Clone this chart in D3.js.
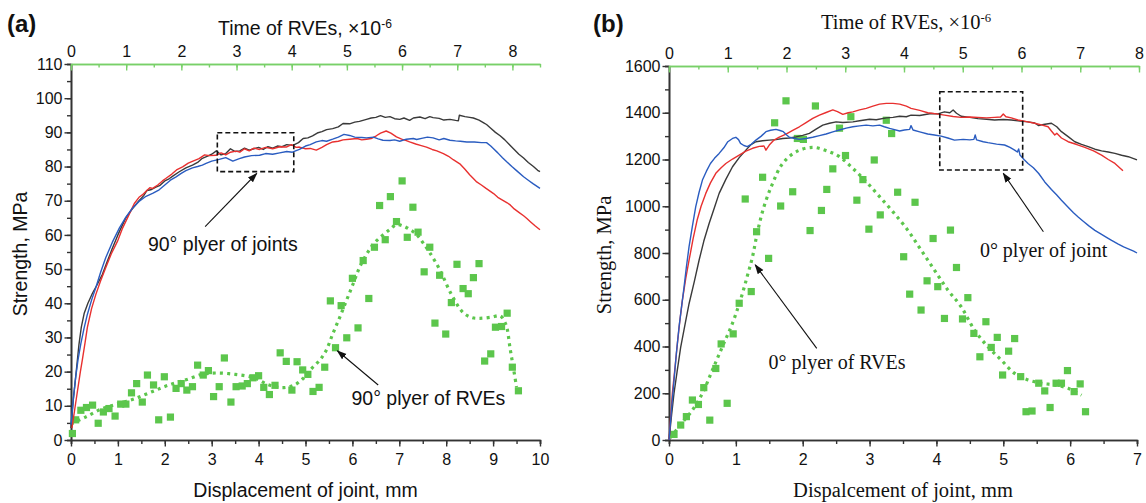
<!DOCTYPE html>
<html>
<head>
<meta charset="utf-8">
<script src="https://cdn.jsdelivr.net/npm/d3@7"></script>
<style>
  body { margin: 0; background: #fff; }
  svg { display: block; }
</style>
</head>
<body>
<svg id="chart" width="1146" height="503"></svg>
<script>
// ---------- Panel (a): 90° plyer ----------
const aJointBlack = [[0,3.5],[0.05,12],[0.1,18.5],[0.17,28],[0.22,33],[0.28,37],[0.36,40],[0.46,43],[0.56,45.5],[0.67,48.5],[0.78,52.5],[0.88,56],[1.0,60],[1.1,63],[1.17,65],[1.3,67.5],[1.45,70],[1.55,71.5],[1.62,73],[1.7,73.2],[1.81,74],[1.9,74.5],[2.0,75.8],[2.1,76.5],[2.17,77.2],[2.3,78.4],[2.45,79.6],[2.59,80.4],[2.7,81.2],[2.8,82.4],[2.9,83],[3.0,83.6],[3.1,84.6],[3.2,83.4],[3.3,83.8],[3.4,85.2],[3.5,84.4],[3.6,84.6],[3.7,85.4],[3.8,84.8],[3.9,85.2],[4.0,85.6],[4.1,85],[4.2,85.8],[4.3,85.4],[4.4,86],[4.5,85.8],[4.6,86.4],[4.73,86.2],[4.85,87],[4.95,88.2],[5.05,88.4],[5.15,89],[5.25,89.8],[5.35,90.2],[5.45,90.8],[5.58,91.1],[5.7,91.6],[5.8,92.6],[5.94,92.5],[6.05,93],[6.15,93.2],[6.3,93.8],[6.4,94.2],[6.5,94.4],[6.6,94.9],[6.7,94.4],[6.8,94.6],[6.9,94],[7.01,93.8],[7.1,94.2],[7.22,93.5],[7.3,94.2],[7.44,94.5],[7.55,94],[7.65,94.6],[7.72,94.3],[7.85,94.1],[7.95,93.6],[8.08,93.8],[8.2,93.5],[8.26,93.4],[8.28,95],[8.4,94.6],[8.5,94.4],[8.58,94.2],[8.7,93.6],[8.8,92.8],[8.86,92.3],[8.95,91.2],[9.05,90],[9.15,89],[9.25,87.8],[9.35,86.4],[9.45,85],[9.55,83.6],[9.65,82.5],[9.75,81.2],[9.86,80],[9.95,78.9],[10,78.5]];
const aJointRed = [[0.02,3.5],[0.08,9],[0.13,13.6],[0.2,20],[0.24,23.3],[0.3,28.5],[0.35,33],[0.44,38.5],[0.53,42.6],[0.63,46.5],[0.74,50.4],[0.86,54.5],[0.99,58.1],[1.1,62],[1.24,66],[1.35,69.2],[1.45,71],[1.52,71.7],[1.6,72.8],[1.68,73.8],[1.74,73.6],[1.85,74.6],[1.95,75.8],[2.02,76.5],[2.15,77.8],[2.25,79],[2.38,79.9],[2.5,81],[2.6,81.6],[2.73,82.3],[2.85,83.4],[2.95,83.2],[3.09,83.3],[3.2,84],[3.3,83.4],[3.4,84.2],[3.52,84.5],[3.6,84.2],[3.7,85.2],[3.8,84.6],[3.9,85.4],[4.02,85],[4.15,85.6],[4.3,85.2],[4.45,85.8],[4.59,85.7],[4.7,86.4],[4.8,85.6],[4.87,85.7],[5.0,85.2],[5.1,85.3],[5.23,84.8],[5.35,85.6],[5.45,86.4],[5.58,87.2],[5.7,87.4],[5.8,87.8],[5.94,88],[6.1,88.2],[6.2,87.8],[6.3,88],[6.4,88.2],[6.51,89],[6.6,89.8],[6.72,90.4],[6.82,89.8],[6.94,88.7],[7.05,88],[7.15,87.6],[7.22,87.2],[7.35,86.6],[7.45,86.2],[7.58,85.7],[7.7,85],[7.8,84.6],[7.94,83.8],[8.05,83],[8.15,82],[8.29,80.8],[8.4,79.2],[8.5,77.6],[8.6,76.2],[8.65,75.5],[8.75,74.6],[8.85,73.6],[9.01,72.1],[9.1,71],[9.2,70.2],[9.3,69.4],[9.37,68.7],[9.45,67.6],[9.55,66.6],[9.65,65.6],[9.72,64.8],[9.8,63.8],[9.9,62.6],[10,61.5]];
const aJointBlue = [[0,4.5],[0.05,12],[0.1,18.4],[0.15,23.5],[0.21,28.2],[0.28,32.8],[0.35,36.8],[0.44,41],[0.53,44.6],[0.63,49],[0.74,53.3],[0.88,57.8],[1.03,62],[1.17,65.2],[1.31,67.8],[1.45,69.8],[1.6,71.3],[1.75,72.2],[1.88,73.2],[2.0,74.6],[2.12,76],[2.24,77],[2.35,78],[2.45,78.8],[2.59,79.6],[2.7,80],[2.8,80.4],[2.88,80.9],[3.0,81.6],[3.16,82.1],[3.3,82.6],[3.45,81.6],[3.59,82.3],[3.7,82.8],[3.85,83.2],[4.02,83.3],[4.15,83.8],[4.3,83.6],[4.45,84],[4.6,84.4],[4.72,84.2],[4.87,85],[5.0,86],[5.1,86.4],[5.23,87.2],[5.35,87.6],[5.45,87.4],[5.58,88],[5.7,88.6],[5.82,89.4],[5.94,89.1],[6.05,88.6],[6.2,88.5],[6.3,88.4],[6.45,88.6],[6.55,88.1],[6.65,87.7],[6.8,87.6],[6.9,87.8],[7.01,87.4],[7.15,88],[7.3,88.2],[7.37,87.9],[7.5,88.3],[7.6,88.6],[7.72,88.4],[7.85,87.8],[7.95,88.2],[8.08,87.7],[8.2,87.5],[8.3,87.4],[8.44,87.2],[8.6,87.2],[8.75,87],[8.86,87],[8.95,86],[9.01,85.2],[9.1,84],[9.2,82.6],[9.29,81.4],[9.4,80],[9.5,78.8],[9.65,77],[9.75,76],[9.85,75],[10,73.6]];
const aRveScatter = [[0.03,1.9],[0.1,5.9],[0.21,8.7],[0.33,9.5],[0.46,10.2],[0.58,4.9],[0.69,8.2],[0.81,9.2],[0.94,7],[1.06,10.5],[1.17,10.5],[1.29,13.8],[1.4,16.5],[1.52,11.1],[1.63,19],[1.76,16.1],[1.87,5.9],[1.99,18.5],[2.12,6.7],[2.24,15.1],[2.35,16.5],[2.47,14.6],[2.59,15.6],[2.7,21.9],[2.82,19],[2.93,20.3],[3.04,12.7],[3.16,15.6],[3.27,24],[3.41,11.1],[3.52,15.6],[3.65,15.8],[3.76,16.5],[3.88,18.2],[4.0,18.8],[4.11,15.4],[4.23,13.3],[4.35,16],[4.46,25.5],[4.59,23],[4.71,14.6],[4.82,22.9],[4.94,20.5],[5.05,19.2],[5.16,14.2],[5.29,15.4],[5.41,21.3],[5.53,40.7],[5.64,27],[5.76,39.3],[5.88,29.9],[6.0,47.3],[6.12,32.8],[6.23,52.5],[6.35,41.4],[6.47,56.4],[6.58,68.6],[6.7,58.6],[6.81,71.2],[6.94,63.9],[7.06,75.8],[7.17,59.3],[7.29,68.1],[7.4,60.8],[7.53,49.2],[7.65,56.4],[7.76,34.2],[7.86,48.2],[7.99,31],[8.11,40.2],[8.23,51.4],[8.36,44.3],[8.47,42.8],[8.58,47.5],[8.7,51.6],[8.82,23.1],[8.95,25.2],[9.05,33],[9.18,33.2],[9.3,37.1],[9.41,21.3],[9.54,14.4]];
const aRveTrend = [[0,4.7],[0.31,6.7],[0.67,9.2],[1.03,10.7],[1.38,12.2],[1.74,14.2],[2.09,16.1],[2.45,17.6],[2.8,19.2],[3.1,19.6],[3.5,19.2],[3.9,18.2],[4.2,16.2],[4.5,15.3],[4.75,16],[4.95,18],[5.1,20.5],[5.3,23.3],[5.44,26.2],[5.58,31],[5.73,35.9],[5.87,40.7],[6.01,45.5],[6.15,50.4],[6.3,54.3],[6.44,57.2],[6.62,59.6],[6.8,61.6],[6.94,63],[7.08,62.6],[7.22,61.6],[7.37,60.1],[7.51,57.6],[7.65,54.8],[7.86,49.9],[8.11,42.6],[8.36,37.3],[8.55,35.8],[8.72,35.6],[8.95,35.9],[9.15,36.3],[9.25,34.5],[9.3,32.5],[9.36,27],[9.43,21.3],[9.5,15.5]];

const aDispTicks = [0,1,2,3,4,5,6,7,8,9,10];
const aStrengthTicks = [0,10,20,30,40,50,60,70,80,90,100,110];
const aTimeTicks = [0,1,2,3,4,5,6,7,8];

// ---------- Panel (b): 0° plyer ----------
const bJointBlack = [[0,0],[0.04,110],[0.075,200],[0.12,290],[0.175,397],[0.24,495],[0.3,583],[0.38,680],[0.45,769],[0.52,850],[0.6,926],[0.68,995],[0.75,1055],[0.85,1115],[0.95,1169],[1.05,1208],[1.15,1240],[1.22,1262],[1.3,1276],[1.4,1280],[1.5,1283],[1.6,1285],[1.7,1290],[1.8,1292],[1.9,1297],[2.0,1303],[2.1,1312],[2.2,1330],[2.3,1347],[2.4,1355],[2.5,1361],[2.6,1358],[2.75,1361],[2.85,1366],[3.0,1372],[3.1,1370],[3.25,1378],[3.35,1380],[3.45,1385],[3.55,1383],[3.62,1390],[3.75,1388],[3.92,1397],[4.02,1395],[4.12,1404],[4.2,1400],[4.25,1412],[4.3,1398],[4.37,1385],[4.5,1380],[4.62,1375],[4.75,1372],[4.87,1369],[5.0,1371],[5.12,1369],[5.25,1365],[5.37,1361],[5.47,1356],[5.53,1345],[5.6,1350],[5.72,1355],[5.8,1340],[5.87,1319],[5.97,1298],[6.07,1276],[6.17,1265],[6.27,1255],[6.37,1244],[6.47,1237],[6.57,1232],[6.67,1226],[6.77,1218],[6.87,1212],[6.95,1204],[7.0,1198]];
const bJointRed = [[0,0],[0.05,200],[0.09,310],[0.125,412],[0.16,505],[0.2,597],[0.25,690],[0.3,769],[0.36,860],[0.42,940],[0.48,1000],[0.55,1055],[0.62,1100],[0.7,1141],[0.78,1165],[0.85,1183],[0.95,1202],[1.05,1219],[1.15,1236],[1.25,1248],[1.35,1256],[1.42,1258],[1.45,1240],[1.5,1262],[1.57,1283],[1.65,1296],[1.75,1309],[1.85,1325],[1.95,1340],[2.05,1358],[2.15,1376],[2.25,1390],[2.35,1401],[2.45,1412],[2.52,1405],[2.6,1393],[2.68,1400],[2.75,1404],[2.85,1412],[2.95,1419],[3.05,1428],[3.15,1437],[3.25,1440],[3.35,1440],[3.45,1437],[3.55,1428],[3.62,1419],[3.75,1410],[3.87,1400],[4.0,1395],[4.12,1390],[4.25,1384],[4.37,1380],[4.5,1382],[4.62,1380],[4.75,1378],[4.87,1380],[4.96,1382],[5.0,1395],[5.04,1383],[5.12,1378],[5.22,1369],[5.35,1362],[5.47,1355],[5.57,1348],[5.67,1340],[5.72,1322],[5.77,1305],[5.8,1312],[5.87,1292],[5.97,1276],[6.1,1264],[6.22,1252],[6.35,1237],[6.47,1219],[6.57,1200],[6.67,1183],[6.79,1152]];
const bJointBlue = [[0,0],[0.04,140],[0.075,255],[0.11,370],[0.15,483],[0.19,575],[0.225,654],[0.26,740],[0.3,827],[0.35,915],[0.4,998],[0.45,1060],[0.5,1112],[0.56,1150],[0.62,1183],[0.68,1205],[0.75,1226],[0.82,1250],[0.88,1276],[0.95,1290],[1.0,1295],[1.04,1285],[1.07,1269],[1.12,1260],[1.17,1255],[1.23,1265],[1.3,1283],[1.38,1300],[1.45,1319],[1.52,1325],[1.6,1329],[1.66,1324],[1.71,1319],[1.76,1305],[1.8,1295],[1.88,1290],[1.95,1286],[2.05,1290],[2.15,1295],[2.25,1302],[2.35,1309],[2.45,1318],[2.55,1326],[2.65,1334],[2.75,1340],[2.85,1344],[2.95,1347],[3.05,1344],[3.15,1347],[3.22,1340],[3.3,1333],[3.45,1322],[3.52,1326],[3.6,1329],[3.62,1345],[3.65,1326],[3.75,1318],[3.87,1309],[3.97,1305],[4.07,1300],[4.17,1292],[4.27,1283],[4.4,1286],[4.5,1284],[4.56,1286],[4.58,1305],[4.6,1284],[4.7,1276],[4.77,1272],[4.9,1266],[5.02,1262],[5.1,1252],[5.17,1240],[5.21,1232],[5.23,1245],[5.25,1219],[5.31,1200],[5.37,1183],[5.45,1165],[5.53,1140],[5.62,1104],[5.72,1072],[5.8,1048],[5.87,1026],[5.97,996],[6.05,972],[6.12,954],[6.2,935],[6.28,916],[6.37,897],[6.47,880],[6.55,866],[6.62,854],[6.72,838],[6.8,826],[6.87,818],[6.95,808],[7.0,800]];
const bRveScatter = [[0.075,24],[0.175,64],[0.26,100],[0.35,171],[0.44,152],[0.52,224],[0.61,85],[0.7,306],[0.78,411],[0.87,157],[0.96,454],[1.05,585],[1.14,1031],[1.23,635],[1.31,891],[1.4,1124],[1.49,777],[1.58,1357],[1.67,1001],[1.75,1451],[1.85,1062],[1.92,1290],[2.01,1286],[2.11,896],[2.19,1429],[2.28,982],[2.36,1072],[2.45,1160],[2.55,1334],[2.64,1217],[2.72,1383],[2.81,1026],[2.9,1114],[2.99,902],[3.07,1198],[3.16,963],[3.25,1368],[3.33,1311],[3.42,1060],[3.51,784],[3.6,624],[3.68,1017],[3.77,556],[3.86,681],[3.95,862],[4.02,656],[4.12,520],[4.21,898],[4.3,738],[4.39,518],[4.47,609],[4.56,456],[4.65,356],[4.74,506],[4.82,396],[4.91,439],[4.99,278],[5.08,380],[5.17,434],[5.26,271],[5.34,121],[5.43,124],[5.53,243],[5.62,210],[5.7,139],[5.79,243],[5.87,243],[5.96,297],[6.06,207],[6.15,240],[6.23,121]];
const bRveTrend = [[0.02,10],[0.2,75],[0.35,128],[0.5,200],[0.65,300],[0.8,400],[0.95,500],[1.07,600],[1.17,700],[1.25,785],[1.32,885],[1.42,998],[1.55,1098],[1.7,1183],[1.9,1233],[2.15,1252],[2.35,1238],[2.55,1212],[2.75,1162],[2.95,1105],[3.15,1041],[3.35,976],[3.57,898],[3.77,813],[3.97,727],[4.17,642],[4.37,570],[4.57,470],[4.77,399],[4.97,342],[5.17,285],[5.37,257],[5.57,243],[5.77,235],[5.97,221],[6.17,192]];

const bDispTicks = [0,1,2,3,4,5,6,7];
const bStrengthTicks = [0,200,400,600,800,1000,1200,1400,1600];
const bTimeTicks = [0,1,2,3,4,5,6,7,8];

// ---------- styling ----------
const COL_BLACK = "#3a3a3a", COL_RED = "#e8302f", COL_BLUE = "#2a5cc0";
const COL_GREEN = "#5cc64c", COL_AXIS_GREEN = "#78d068", COL_AXIS = "#333";
const SANS = "'Liberation Sans', Arial, sans-serif";
const SERIF = "'Liberation Serif', 'Times New Roman', serif";

const svg = d3.select("#chart");

svg.append("defs").append("marker")
  .attr("id", "arrowhead")
  .attr("viewBox", "0 0 10 10").attr("refX", 9).attr("refY", 5)
  .attr("markerWidth", 10).attr("markerHeight", 10)
  .attr("markerUnits", "userSpaceOnUse")
  .attr("orient", "auto")
  .append("path").attr("d", "M0,1.5 L10,5 L0,8.5 Z").attr("fill", "#111");

function minorValues(lo, hi, step) {
  const out = [];
  for (let v = lo; v <= hi + 1e-9; v += step) out.push(+v.toFixed(6));
  return out;
}

function styleAxis(g, color, font, size) {
  g.select(".domain").attr("stroke", color).attr("stroke-width", 1.6);
  g.selectAll(".tick line").attr("stroke", color).attr("stroke-width", 1.4);
  g.selectAll(".tick text").attr("fill", "#111").style("font-family", font).style("font-size", size + "px");
}

function drawPanel(p) {
  const g = svg.append("g");
  const x = d3.scaleLinear().domain(p.xDomain).range([p.left, p.right]);
  const y = d3.scaleLinear().domain(p.yDomain).range([p.bottom, p.top]);
  const t = d3.scaleLinear().domain(p.tDomain).range([p.left, p.tRight]);

  // minor ticks first, then labelled major ticks
  g.append("g").attr("transform", `translate(0,${p.bottom})`)
    .call(d3.axisBottom(x).tickValues(minorValues(p.xDomain[0], p.xDomain[1], p.xMinor)).tickSize(4).tickFormat(""))
    .call(a => styleAxis(a, COL_AXIS, SANS, 16));
  g.append("g").attr("transform", `translate(0,${p.bottom})`)
    .call(d3.axisBottom(x).tickValues(p.xTicks).tickSize(6.5).tickSizeOuter(0).tickPadding(7).tickFormat(d3.format("d")))
    .call(a => styleAxis(a, COL_AXIS, SANS, 16));

  g.append("g").attr("transform", `translate(${p.left},0)`)
    .call(d3.axisLeft(y).tickValues(minorValues(p.yDomain[0], p.yDomain[1], p.yMinor)).tickSize(4).tickFormat(""))
    .call(a => styleAxis(a, COL_AXIS, SANS, 16));
  g.append("g").attr("transform", `translate(${p.left},0)`)
    .call(d3.axisLeft(y).tickValues(p.yTicks).tickSize(6.5).tickSizeOuter(0).tickPadding(2).tickFormat(d3.format("d")))
    .call(a => styleAxis(a, COL_AXIS, SANS, 16));

  // green time axis along the top, ticks pointing inward
  g.append("g").attr("transform", `translate(0,${p.top})`)
    .call(d3.axisTop(t).tickValues(minorValues(p.tDomain[0], p.tDomain[1], 0.5)).tickSize(-3.5).tickSizeOuter(0).tickFormat(""))
    .call(a => styleAxis(a, COL_AXIS_GREEN, SANS, 16));
  g.append("g").attr("transform", `translate(0,${p.top})`)
    .call(d3.axisTop(t).tickValues(p.tTicks).tickSize(-6.5).tickSizeOuter(0).tickPadding(7).tickFormat(d3.format("d")))
    .call(a => styleAxis(a, COL_AXIS_GREEN, SANS, 16));

  const line = d3.line().x(d => x(d[0])).y(d => y(d[1]));
  const smooth = d3.line().x(d => x(d[0])).y(d => y(d[1])).curve(d3.curveCatmullRom.alpha(0.5));

  // dotted trend of the RVE results
  g.append("path").datum(p.trend)
    .attr("d", smooth).attr("fill", "none")
    .attr("stroke", COL_GREEN).attr("stroke-width", 3.2)
    .attr("stroke-dasharray", "3 4.2");

  // RVE results as square markers
  const s = 7.2;
  g.append("g").selectAll("rect").data(p.scatter).join("rect")
    .attr("x", d => x(d[0]) - s / 2).attr("y", d => y(d[1]) - s / 2)
    .attr("width", s).attr("height", s).attr("fill", COL_GREEN);

  // joint strength curves
  p.curves.forEach(c => {
    g.append("path").datum(c.data)
      .attr("d", line).attr("fill", "none")
      .attr("stroke", c.color).attr("stroke-width", 1.4)
      .attr("stroke-linejoin", "round");
  });

  // dashed highlight box
  const r = p.box;
  g.append("rect")
    .attr("x", x(r[0])).attr("y", y(r[3]))
    .attr("width", x(r[1]) - x(r[0])).attr("height", y(r[2]) - y(r[3]))
    .attr("fill", "none").attr("stroke", "#111").attr("stroke-width", 1.6)
    .attr("stroke-dasharray", "5 3");

  // annotations with arrows
  p.notes.forEach(n => {
    g.append("line")
      .attr("x1", x(n.from[0])).attr("y1", y(n.from[1]))
      .attr("x2", x(n.to[0])).attr("y2", y(n.to[1]))
      .attr("stroke", "#111").attr("stroke-width", 1.1)
      .attr("marker-end", "url(#arrowhead)");
    g.append("text")
      .attr("x", x(n.at[0])).attr("y", y(n.at[1]))
      .style("font-family", p.noteFont).style("font-size", p.noteSize + "px")
      .attr("fill", "#111").text(n.label);
  });

  // panel letter
  g.append("text").attr("x", p.letterX).attr("y", 32)
    .style("font-family", SANS).style("font-size", "24px").style("font-weight", "bold")
    .attr("fill", "#111").text(p.letter);

  // top axis title with superscript exponent
  const tt = g.append("text").attr("x", p.timeTitleX).attr("y", p.timeTitleY)
    .style("font-family", p.titleFont).style("font-size", p.titleSize + "px").attr("fill", "#111");
  tt.append("tspan").text("Time of RVEs, \u00d710");
  tt.append("tspan").attr("dy", -7).style("font-size", (p.titleSize * 0.62) + "px").text("-6");

  // bottom axis title
  g.append("text").attr("x", (p.left + p.right) / 2).attr("y", 497)
    .attr("text-anchor", "middle")
    .style("font-family", p.titleFont).style("font-size", p.titleSize + "px")
    .attr("fill", "#111").text(p.xTitle);

  // left axis title
  g.append("text")
    .attr("transform", `translate(${p.yTitleX},${(p.top + p.bottom) / 2 + 2}) rotate(-90)`)
    .attr("text-anchor", "middle")
    .style("font-family", p.titleFont).style("font-size", p.titleSize + "px")
    .attr("fill", "#111").text("Strength, MPa");
}

drawPanel({
  letter: "(a)", letterX: 7,
  left: 71, right: 540, top: 64, bottom: 440, tRight: 540,
  xDomain: [0, 10], yDomain: [0, 110], tDomain: [0, 8.5],
  xTicks: aDispTicks, yTicks: aStrengthTicks, tTicks: aTimeTicks,
  xMinor: 0.5, yMinor: 5,
  curves: [
    { data: aJointBlack, color: COL_BLACK },
    { data: aJointRed, color: COL_RED },
    { data: aJointBlue, color: COL_BLUE }
  ],
  scatter: aRveScatter, trend: aRveTrend,
  box: [3.12, 4.75, 78.5, 89.9],
  notes: [
    { label: "90\u00b0 plyer of joints", at: [1.64, 55.3], from: [2.86, 62.4], to: [3.96, 78.0] },
    { label: "90\u00b0 plyer of RVEs", at: [5.98, 10.2], from: [6.55, 16.1], to: [5.68, 26.1] }
  ],
  noteFont: SANS, noteSize: 19.5,
  titleFont: SANS, titleSize: 19.5,
  timeTitleX: 218, timeTitleY: 35,
  xTitle: "Displacement of joint, mm", yTitleX: 27
});

drawPanel({
  letter: "(b)", letterX: 593,
  left: 669, right: 1137, top: 66, bottom: 440, tRight: 1139,
  xDomain: [0, 7], yDomain: [0, 1600], tDomain: [0, 8],
  xTicks: bDispTicks, yTicks: bStrengthTicks, tTicks: bTimeTicks,
  xMinor: 0.5, yMinor: 100,
  curves: [
    { data: bJointBlack, color: COL_BLACK },
    { data: bJointRed, color: COL_RED },
    { data: bJointBlue, color: COL_BLUE }
  ],
  scatter: bRveScatter, trend: bRveTrend,
  box: [4.05, 5.29, 1155, 1490],
  notes: [
    { label: "0\u00b0 plyer of joint", at: [4.65, 783], from: [5.6, 891], to: [5.0, 1141] },
    { label: "0\u00b0 plyer of RVEs", at: [1.49, 304], from: [2.21, 392], to: [1.29, 749] }
  ],
  noteFont: SERIF, noteSize: 20,
  titleFont: SERIF, titleSize: 20.5,
  timeTitleX: 821, timeTitleY: 29,
  xTitle: "Dispalcement of joint, mm", yTitleX: 611
});
</script>
</body>
</html>
